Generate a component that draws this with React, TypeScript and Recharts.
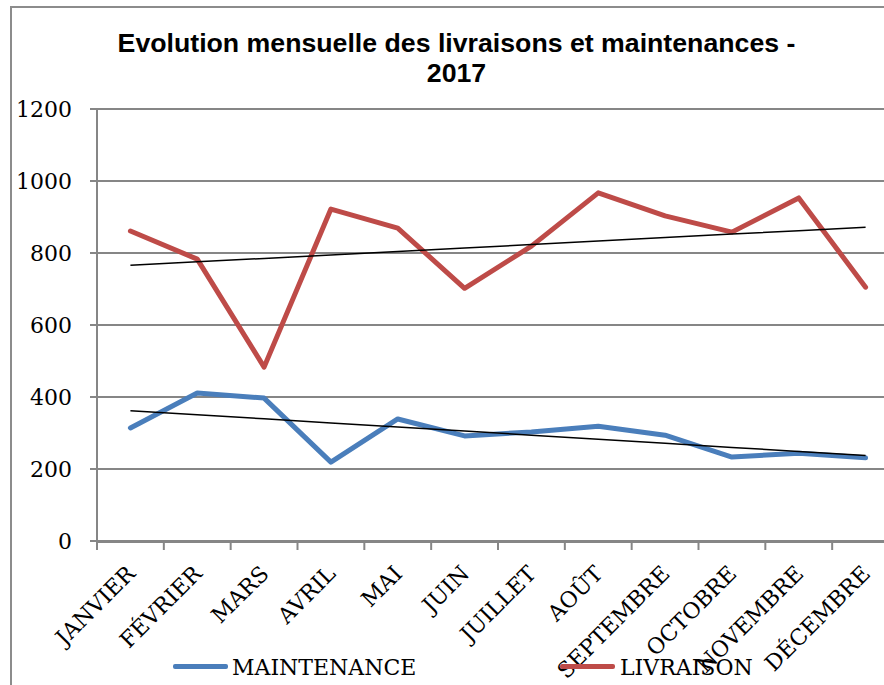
import { CartesianGrid, Line, LineChart, XAxis, YAxis } from "recharts"

const MONTHS = [
  "JANVIER", "FÉVRIER", "MARS", "AVRIL", "MAI", "JUIN",
  "JUILLET", "AOÛT", "SEPTEMBRE", "OCTOBRE", "NOVEMBRE", "DÉCEMBRE",
]
const MAINTENANCE = [314, 411, 397, 219, 339, 292, 303, 319, 294, 233, 244, 231]
const LIVRAISON = [861, 783, 483, 922, 869, 702, 819, 967, 903, 858, 953, 705]
const Y_TICKS = [0, 200, 400, 600, 800, 1000, 1200]

const BLUE = "#4A7EBB"
const RED = "#BE4B48"
const GRID = "#868686"
const SERIF = '"DejaVu Serif", serif'

// linear trend (least squares), like Excel's trendline
function trend(values: number[]) {
  const n = values.length
  const mx = (n - 1) / 2
  const my = values.reduce((s, v) => s + v, 0) / n
  let num = 0
  let den = 0
  values.forEach((v, i) => {
    num += (i - mx) * (v - my)
    den += (i - mx) * (i - mx)
  })
  const slope = num / den
  return values.map((_, i) => my + slope * (i - mx))
}

const trendM = trend(MAINTENANCE)
const trendL = trend(LIVRAISON)

const data = MONTHS.map((name, i) => ({
  idx: i,
  name,
  maintenance: MAINTENANCE[i],
  livraison: LIVRAISON[i],
  trendM: trendM[i],
  trendL: trendL[i],
}))

const labelTicks = MONTHS.map((_, i) => i)
const boundaryTicks = MONTHS.map((_, i) => i - 0.5).concat(MONTHS.length - 0.5)

const MonthTick = (props: any) => {
  const { x, y, payload } = props
  const ax = x + 6
  const ay = y + 34
  return (
    <text
      x={ax}
      y={ay}
      transform={`rotate(-45 ${ax} ${ay})`}
      textAnchor="end"
      fontSize={22}
      fontFamily={SERIF}
      fill="#000"
    >
      {MONTHS[payload.value]}
    </text>
  )
}

const NoLabel = () => <g />

export default function App() {
  return (
    <div
      style={{
        position: "absolute",
        left: 0,
        top: 0,
        width: 884,
        height: 685,
        overflow: "hidden",
        background: "#fff",
      }}
    >
      <div
        style={{
          position: "absolute",
          left: 10,
          top: 6,
          width: 900,
          height: 700,
          border: "2px solid #8c8c8c",
        }}
      />
      <div
        style={{
          position: "absolute",
          left: 0,
          top: 28,
          width: 913,
          textAlign: "center",
          fontFamily: '"Liberation Sans", Arial, sans-serif',
          fontWeight: "bold",
          fontSize: 26.7,
          lineHeight: "30px",
          color: "#000",
        }}
      >
        Evolution mensuelle des livraisons et maintenances -
        <br />
        2017
      </div>
      <LineChart
        width={900}
        height={685}
        data={data}
        margin={{ top: 109, right: 1, left: 0, bottom: 142 }}
        style={{ position: "absolute", left: 0, top: 0 }}
      >
        <CartesianGrid vertical={false} stroke={GRID} strokeWidth={2} />
        <XAxis
          xAxisId="b"
          dataKey="idx"
          type="number"
          domain={[-0.5, 11.5]}
          ticks={boundaryTicks}
          interval={0}
          tick={<NoLabel />}
          tickLine={{ stroke: GRID, strokeWidth: 2 }}
          tickSize={8}
          height={1}
          stroke={GRID}
          strokeWidth={2}
        />
        <XAxis
          dataKey="idx"
          type="number"
          domain={[-0.5, 11.5]}
          ticks={labelTicks}
          interval={0}
          axisLine={false}
          tickLine={false}
          tickSize={0}
          tickMargin={0}
          height={1}
          tick={<MonthTick />}
        />
        <YAxis
          width={97}
          type="number"
          domain={[0, 1200]}
          ticks={Y_TICKS}
          interval={0}
          tickSize={7}
          tickMargin={18}
          stroke={GRID}
          strokeWidth={2}
          tick={{ fill: "#000", fontSize: 22, fontFamily: SERIF }}
        />
        <Line
          dataKey="maintenance"
          stroke={BLUE}
          strokeWidth={5}
          strokeLinecap="round"
          strokeLinejoin="round"
          dot={false}
          activeDot={false}
          isAnimationActive={false}
        />
        <Line
          dataKey="livraison"
          stroke={RED}
          strokeWidth={5}
          strokeLinecap="round"
          strokeLinejoin="round"
          dot={false}
          activeDot={false}
          isAnimationActive={false}
        />
        <Line
          dataKey="trendM"
          stroke="#000"
          strokeWidth={1.5}
          dot={false}
          activeDot={false}
          isAnimationActive={false}
        />
        <Line
          dataKey="trendL"
          stroke="#000"
          strokeWidth={1.5}
          dot={false}
          activeDot={false}
          isAnimationActive={false}
        />
      </LineChart>
      {/* legend */}
      <div style={{ position: "absolute", left: 173, top: 664, width: 55, height: 5, background: BLUE, borderRadius: 2 }} />
      <div style={{ position: "absolute", left: 232, top: 655, fontFamily: SERIF, fontSize: 22, lineHeight: "26px", color: "#000" }}>
        MAINTENANCE
      </div>
      <div style={{ position: "absolute", left: 560, top: 664, width: 55, height: 5, background: RED, borderRadius: 2 }} />
      <div style={{ position: "absolute", left: 620, top: 655, fontFamily: SERIF, fontSize: 22, lineHeight: "26px", color: "#000" }}>
        LIVRAISON
      </div>
    </div>
  )
}
